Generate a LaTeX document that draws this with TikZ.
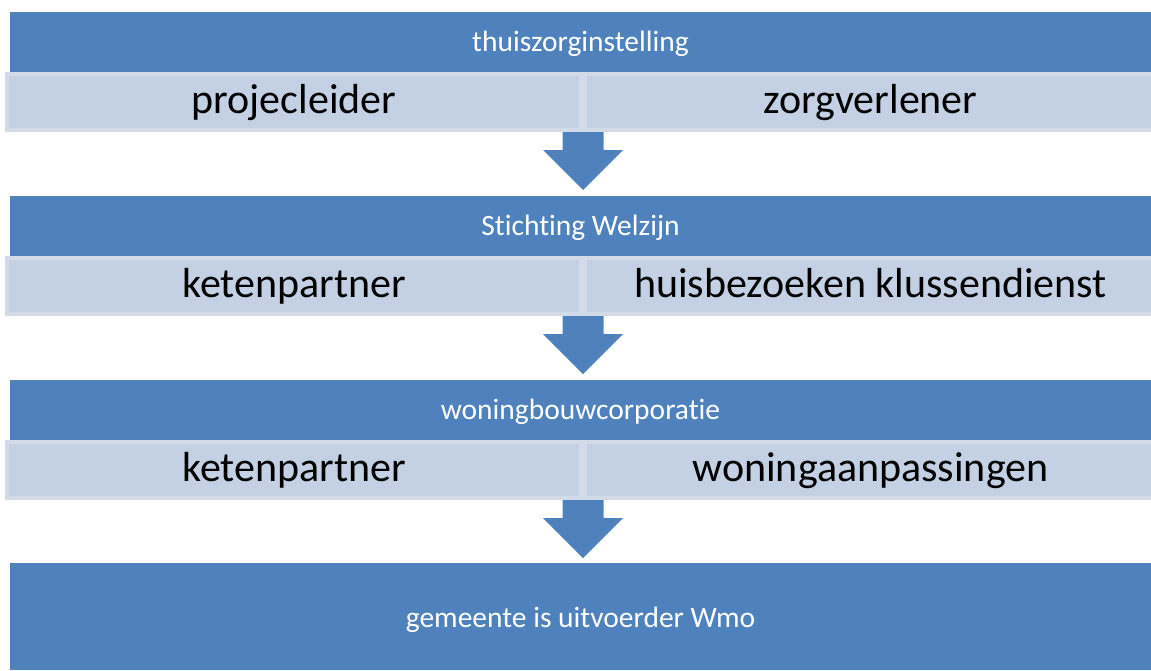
\documentclass[tikz,border=0pt]{standalone}
\usepackage{fontspec}
\setmainfont{Carlito}[Ligatures={NoCommon}]
\usetikzlibrary{calc}
\definecolor{band}{HTML}{4F81BD}
\definecolor{cell}{HTML}{C4D0E3}
\definecolor{cellrim}{HTML}{D3DBE9}
\begin{document}
\begin{tikzpicture}[x=1pt,y=-1pt,
  header/.style={fill=band, draw=none, inner sep=0pt, text=white, font=\fontsize{29.5}{34}\selectfont, text height=18pt, text depth=0pt},
  cellbox/.style={fill=cell, draw=cellrim, line width=4pt, inner sep=0pt, text=black, font=\fontsize{42}{48}\selectfont, text height=23.4pt, text depth=0pt},
  downarrow/.pic={\fill[band] (-20.5,0) -- (20.5,0) -- (20.5,18) -- (40,18) -- (0,58) -- (-40,18) -- (-20.5,18) -- cycle;}]
\useasboundingbox (0,0) rectangle (1151,670);
% row 1
\node[header, minimum width=1141pt, minimum height=60pt] (h1) at (580.5,42) {thuiszorginstelling};
\pic at (583,132) {downarrow};
\node[cellbox, minimum width=574pt, minimum height=56pt] (c1l) at (294,102) {projecleider};
\node[cellbox, minimum width=571pt, minimum height=56pt] (c1r) at (870.5,102) {zorgverlener};
% row 2
\node[header, minimum width=1141pt, minimum height=60pt] (h2) at (580.5,226) {Stichting Welzijn};
\pic at (583,316) {downarrow};
\node[cellbox, minimum width=574pt, minimum height=56pt] (c2l) at (294,286) {ketenpartner};
\node[cellbox, minimum width=571pt, minimum height=56pt] (c2r) at (870.5,286) {huisbezoeken klussendienst};
% row 3
\node[header, minimum width=1141pt, minimum height=60pt] (h3) at (580.5,410) {woningbouwcorporatie};
\pic at (583,500) {downarrow};
\node[cellbox, minimum width=574pt, minimum height=56pt] (c3l) at (294,470) {ketenpartner};
\node[cellbox, minimum width=571pt, minimum height=56pt] (c3r) at (870.5,470) {woningaanpassingen};
% row 4
\node[header, minimum width=1141pt, minimum height=107pt, text height=21.6pt] (h4) at (580.5,616.5) {gemeente is uitvoerder Wmo};
\end{tikzpicture}
\end{document}
